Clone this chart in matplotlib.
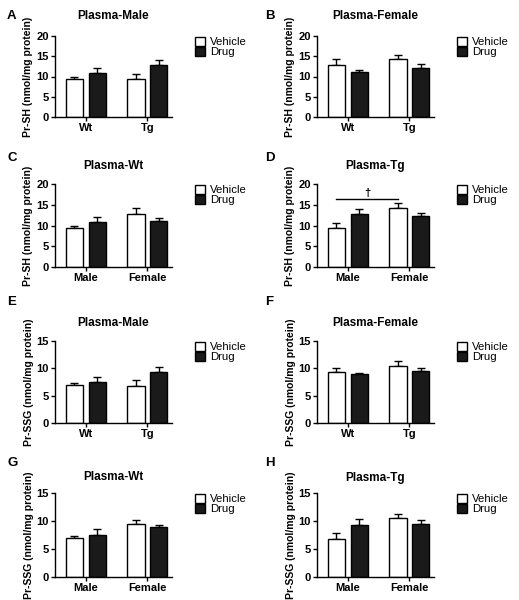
import matplotlib.pyplot as plt
import numpy as np
from matplotlib.patches import Patch

plt.rcParams['font.family'] = ['Liberation Sans', 'DejaVu Sans']

# group order for each panel: [group1, group2], each with vehicle / drug values
male_sh_veh = [9.5, 9.3]
male_sh_veh_err = [0.5, 1.3]
male_sh_drug = [10.8, 12.8]
male_sh_drug_err = [1.3, 1.2]

female_sh_veh = [12.8, 14.2]
female_sh_veh_err = [1.4, 1.2]
female_sh_drug = [11.1, 12.2]
female_sh_drug_err = [0.6, 0.9]

male_ssg_veh = [6.9, 6.8]
male_ssg_veh_err = [0.5, 1.1]
male_ssg_drug = [7.5, 9.3]
male_ssg_drug_err = [1.0, 1.0]

female_ssg_veh = [9.4, 10.5]
female_ssg_veh_err = [0.7, 0.8]
female_ssg_drug = [8.9, 9.5]
female_ssg_drug_err = [0.3, 0.6]

geno_labels = ['Wt', 'Tg']
sex_labels = ['Male', 'Female']


def by_geno(male, female, i):
    # pick genotype i (0=Wt, 1=Tg) across sexes
    return [male[i], female[i]]


panels = [
    ('A', 'Plasma-Male', geno_labels, male_sh_veh, male_sh_veh_err, male_sh_drug, male_sh_drug_err, 'Pr-SH', 20),
    ('B', 'Plasma-Female', geno_labels, female_sh_veh, female_sh_veh_err, female_sh_drug, female_sh_drug_err, 'Pr-SH', 20),
    ('C', 'Plasma-Wt', sex_labels, by_geno(male_sh_veh, female_sh_veh, 0), by_geno(male_sh_veh_err, female_sh_veh_err, 0),
     by_geno(male_sh_drug, female_sh_drug, 0), by_geno(male_sh_drug_err, female_sh_drug_err, 0), 'Pr-SH', 20),
    ('D', 'Plasma-Tg', sex_labels, by_geno(male_sh_veh, female_sh_veh, 1), by_geno(male_sh_veh_err, female_sh_veh_err, 1),
     by_geno(male_sh_drug, female_sh_drug, 1), by_geno(male_sh_drug_err, female_sh_drug_err, 1), 'Pr-SH', 20),
    ('E', 'Plasma-Male', geno_labels, male_ssg_veh, male_ssg_veh_err, male_ssg_drug, male_ssg_drug_err, 'Pr-SSG', 15),
    ('F', 'Plasma-Female', geno_labels, female_ssg_veh, female_ssg_veh_err, female_ssg_drug, female_ssg_drug_err, 'Pr-SSG', 15),
    ('G', 'Plasma-Wt', sex_labels, by_geno(male_ssg_veh, female_ssg_veh, 0), by_geno(male_ssg_veh_err, female_ssg_veh_err, 0),
     by_geno(male_ssg_drug, female_ssg_drug, 0), by_geno(male_ssg_drug_err, female_ssg_drug_err, 0), 'Pr-SSG', 15),
    ('H', 'Plasma-Tg', sex_labels, by_geno(male_ssg_veh, female_ssg_veh, 1), by_geno(male_ssg_veh_err, female_ssg_veh_err, 1),
     by_geno(male_ssg_drug, female_ssg_drug, 1), by_geno(male_ssg_drug_err, female_ssg_drug_err, 1), 'Pr-SSG', 15),
]

fig = plt.figure(figsize=(5.19, 6.0), dpi=100)

W, H = 519, 600
col_left = [55, 317]
ax_w = 117
row_bottom = [117, 267, 423, 577]
row_h = [81, 83, 82, 84]
title_pad = [12, 11, 10.5, 9]
letter_x = [7, 265]
letter_y = [16, 158, 302, 463]

width = 0.28
off = 0.185
x = np.arange(2)

for k, (letter, title, labels, veh, veh_err, drug, drug_err, ylab, ymax) in enumerate(panels):
    r, c = divmod(k, 2)
    ax = fig.add_axes([col_left[c] / W, 1 - row_bottom[r] / H, ax_w / W, row_h[r] / H])
    ax.bar(x - off, veh, width, color='white', edgecolor='black', linewidth=1.0, zorder=2)
    ax.bar(x + off, drug, width, color='#1a1a1a', edgecolor='black', linewidth=1.0, zorder=2)
    ax.errorbar(x - off, veh, yerr=[np.zeros(2), veh_err], fmt='none', ecolor='black',
                elinewidth=1.0, capsize=3, capthick=1.0, zorder=1)
    ax.errorbar(x + off, drug, yerr=[np.zeros(2), drug_err], fmt='none', ecolor='black',
                elinewidth=1.0, capsize=3, capthick=1.0, zorder=1)
    ax.set_xlim(-0.5, 1.4)
    ax.set_ylim(0, ymax)
    ax.set_yticks(np.arange(0, ymax + 1, 5))
    ax.set_xticks(x)
    ax.set_xticklabels(labels, fontweight='bold', fontsize=8)
    for t in ax.get_yticklabels():
        t.set_fontweight('bold')
        t.set_fontsize(8)
    ax.tick_params(axis='both', direction='out', length=3, width=1.0, pad=1.5)
    ax.spines['top'].set_visible(False)
    ax.spines['right'].set_visible(False)
    ax.spines['left'].set_linewidth(1.0)
    ax.spines['bottom'].set_linewidth(1.0)
    ax.set_ylabel(ylab + ' (nmol/mg protein)', fontweight='bold', fontsize=7.5, labelpad=2)
    ax.set_title(title, fontweight='bold', fontsize=8.5, pad=title_pad[r])
    fig.text(letter_x[c] / W, 1 - letter_y[r] / H, letter, fontweight='bold', fontsize=9.5,
             ha='left', va='center')
    handles = [Patch(facecolor='white', edgecolor='black', linewidth=1.0, label='Vehicle'),
               Patch(facecolor='#1a1a1a', edgecolor='black', linewidth=1.0, label='Drug')]
    ax.legend(handles=handles, loc='upper left', bbox_to_anchor=(1.2, 0.99), frameon=False,
              fontsize=8.2, handlelength=0.85, handleheight=0.85, handletextpad=0.4,
              labelspacing=-0.05, borderpad=0, borderaxespad=0)

    if letter == 'D':
        y_sig = 16.4
        ax.plot([x[0] - off, x[1] - off], [y_sig, y_sig], color='black', linewidth=1.0)
        ax.text((x[0] + x[1]) / 2 - off, y_sig + 0.3, '\u2020', ha='center', va='bottom',
                fontsize=8, fontweight='bold')

fig.savefig('out.png', dpi=100)
